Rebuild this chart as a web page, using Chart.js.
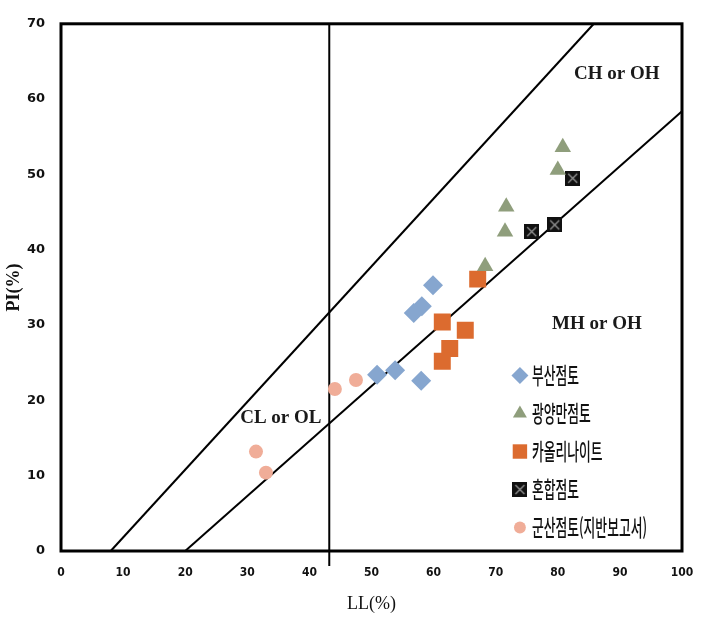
<!DOCTYPE html>
<html lang="ko">
<head>
    <meta charset="UTF-8">
    <title>소성도</title>
    <script src="https://cdn.jsdelivr.net/npm/chart.js"></script>
    <style>
        body {
            margin: 0;
            padding: 0;
            background: #ffffff;
        }
        canvas {
            display: block;
        }
    </style>
</head>
<body>
<canvas id="plasticity" width="712" height="630"></canvas>

<script>
    // 시료별 액성한계(LL), 소성지수(PI)
    const busanLL = [59.9, 58.1, 56.8, 53.8, 50.9, 58.0];
    const busanPI = [35.3, 32.5, 31.6, 24.0, 23.4, 22.6];
    const gwangyangLL = [80.8, 80.0, 71.7, 71.5, 68.3];
    const gwangyangPI = [53.6, 50.6, 45.7, 42.4, 37.8];
    const kaolinLL = [67.1, 61.4, 65.1, 62.6, 61.4];
    const kaolinPI = [36.1, 30.4, 29.3, 26.9, 25.2];
    const mixedLL = [82.4, 79.5, 75.8];
    const mixedPI = [49.5, 43.3, 42.4];
    const gunsanLL = [44.1, 47.5, 31.4, 33.0];
    const gunsanPI = [21.5, 22.7, 13.2, 10.4];

    // 경계선 (A선, U선, 구분선)
    const aLineLL = [20, 100];
    const aLinePI = [0, 58.4];
    const uLineLL = [8, 85.8];
    const uLinePI = [0, 70];
    const divLL = [43.2, 43.2];
    const divPI = [70, -2];

    const seriesNames = ['부산점토', '광양만점토', '카올리나이트', '혼합점토', '군산점토(지반보고서)'];

    // 영역 이름
    const zoneText = ['CH or OH', 'MH or OH', 'CL or OL'];
    const zoneLL = [89.5, 86.3, 35.4];
    const zonePI = [63.3, 30.1, 17.6];

    const toPoints = (xs, ys) => xs.map((x, i) => ({ x: x, y: ys[i] }));

    // 혼합점토 마커: 검은 사각형 + X
    function makeBoxX(size) {
        const c = document.createElement('canvas');
        c.width = size;
        c.height = size;
        const g = c.getContext('2d');
        g.fillStyle = '#111111';
        g.fillRect(0, 0, size, size);
        g.strokeStyle = '#9a9a9a';
        g.lineWidth = 1.2;
        g.beginPath();
        g.moveTo(3, 3);
        g.lineTo(size - 3, size - 3);
        g.moveTo(size - 3, 3);
        g.lineTo(3, size - 3);
        g.stroke();
        return c;
    }
    const boxX = makeBoxX(15);

    function pointSet(label, xs, ys, style, radius, color) {
        return {
            label: label,
            data: toPoints(xs, ys),
            pointStyle: style,
            pointRadius: radius,
            pointHoverRadius: radius,
            backgroundColor: color,
            borderColor: color,
            borderWidth: 0,
            showLine: false,
            order: 1
        };
    }

    function lineSet(xs, ys) {
        return {
            label: '',
            data: toPoints(xs, ys),
            showLine: true,
            borderColor: '#000000',
            borderWidth: 2,
            pointRadius: 0,
            fill: false,
            isLine: true,
            clip: false,
            order: 5
        };
    }

    // 그래프 테두리
    const frameBox = {
        id: 'frameBox',
        afterDatasetsDraw(chart) {
            const a = chart.chartArea;
            const ctx = chart.ctx;
            ctx.save();
            ctx.strokeStyle = '#000000';
            ctx.lineWidth = 3;
            ctx.strokeRect(a.left, a.top, a.right - a.left, a.bottom - a.top);
            ctx.restore();
        }
    };

    // 영역 이름 표시
    const zoneLabels = {
        id: 'zoneLabels',
        afterDatasetsDraw(chart) {
            const ctx = chart.ctx;
            const sx = chart.scales.x;
            const sy = chart.scales.y;
            ctx.save();
            ctx.fillStyle = '#1a1a1a';
            ctx.font = 'bold 19px "Liberation Serif", serif';
            ctx.textAlign = 'center';
            ctx.textBaseline = 'middle';
            zoneText.forEach((t, i) => {
                ctx.fillText(t, sx.getPixelForValue(zoneLL[i]), sy.getPixelForValue(zonePI[i]));
            });
            ctx.restore();
        }
    };

    // 그래프 안쪽 범례
    const innerLegend = {
        id: 'innerLegend',
        afterDatasetsDraw(chart) {
            const ctx = chart.ctx;
            const sx = chart.scales.x;
            const sy = chart.scales.y;
            const x0 = sx.getPixelForValue(73.9);
            const y0 = sy.getPixelForValue(23.3);
            const step = 38;
            const sets = chart.data.datasets.filter(d => !d.isLine);
            ctx.save();
            sets.forEach((ds, i) => {
                const y = y0 + i * step;
                const r = ds.pointRadius * 0.85;
                if (Chart.helpers && Chart.helpers.drawPoint) {
                    ctx.fillStyle = ds.backgroundColor;
                    ctx.strokeStyle = ds.borderColor;
                    ctx.lineWidth = 0;
                    Chart.helpers.drawPoint(ctx, { pointStyle: ds.pointStyle, radius: r, borderWidth: 0, rotation: 0 }, x0, y);
                }
                ctx.save();
                ctx.translate(x0 + 12, y);
                ctx.scale(0.8, 1.4);
                ctx.fillStyle = '#111111';
                ctx.font = '500 16px "Noto Sans CJK KR", sans-serif';
                ctx.textAlign = 'left';
                ctx.textBaseline = 'middle';
                ctx.fillText(ds.label, 0, 0);
                ctx.restore();
            });
            ctx.restore();
        }
    };

    const ctx = document.getElementById('plasticity').getContext('2d');
    new Chart(ctx, {
        type: 'scatter',
        data: {
            datasets: [
                pointSet(seriesNames[0], busanLL, busanPI, 'rectRot', 10, '#86a6cf'),
                pointSet(seriesNames[1], gwangyangLL, gwangyangPI, 'triangle', 9.5, '#8f9e7c'),
                pointSet(seriesNames[2], kaolinLL, kaolinPI, 'rect', 12, '#dc6b2f'),
                pointSet(seriesNames[3], mixedLL, mixedPI, boxX, 8, '#111111'),
                pointSet(seriesNames[4], gunsanLL, gunsanPI, 'circle', 7, '#f0ad98'),
                lineSet(aLineLL, aLinePI),
                lineSet(uLineLL, uLinePI),
                lineSet(divLL, divPI)
            ]
        },
        options: {
            responsive: false,
            animation: false,
            layout: {
                padding: { left: 0, right: 30, top: 21, bottom: 0 }
            },
            scales: {
                x: {
                    type: 'linear',
                    min: 0,
                    max: 100,
                    grid: { display: false, drawTicks: false },
                    border: { display: false },
                    ticks: {
                        stepSize: 10,
                        padding: 15,
                        color: '#111111',
                        font: { family: '"DejaVu Sans Condensed", sans-serif', size: 12, weight: 'bold' }
                    },
                    title: {
                        display: true,
                        text: 'LL(%)',
                        color: '#111111',
                        font: { family: '"Liberation Serif", serif', size: 18 },
                        padding: { top: 0, bottom: 15 }
                    },
                    afterFit: s => { s.height = 79; }
                },
                y: {
                    min: 0,
                    max: 70,
                    grid: { display: false, drawTicks: false },
                    border: { display: false },
                    ticks: {
                        stepSize: 10,
                        padding: 16,
                        color: '#111111',
                        font: { family: '"DejaVu Sans", sans-serif', size: 13, weight: 'bold' }
                    },
                    title: {
                        display: true,
                        text: 'PI(%)',
                        color: '#111111',
                        font: { family: '"Liberation Serif", serif', size: 18, weight: 'bold' },
                        padding: { top: 4, bottom: 0 }
                    },
                    afterFit: s => { s.width = 61; }
                }
            },
            plugins: {
                legend: { display: false },
                tooltip: { enabled: false }
            }
        },
        plugins: [frameBox, zoneLabels, innerLegend]
    });
</script>

</body>
</html>
